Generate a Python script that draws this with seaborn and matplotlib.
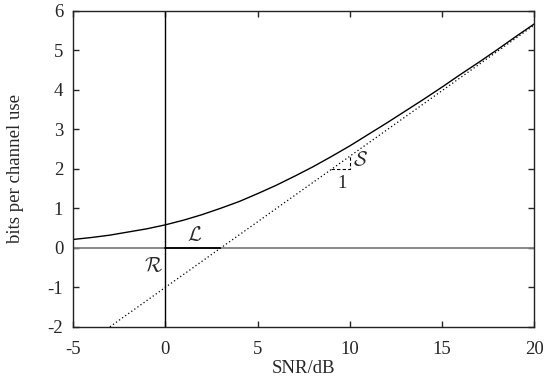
import matplotlib
matplotlib.use("Agg")
import matplotlib.pyplot as plt
import seaborn as sns
import pandas as pd

# curve, one value per dB
snr_db = list(range(-5, 21))
bits = [0.21, 0.26, 0.32, 0.40, 0.48, 0.58, 0.70, 0.84, 1.00, 1.17,
        1.37, 1.58, 1.81, 2.05, 2.31, 2.58, 2.87, 3.16, 3.46, 3.76,
        4.07, 4.39, 4.70, 5.02, 5.35, 5.67]

# high-SNR asymptote (dotted)
asym_db = [-3.0, 20.0]
asym_bits = [-2.0, 5.64]

# slope triangle next to S
tri_db = [9.0, 10.0, 10.0]
tri_bits = [2.0, 2.0, 2.33]

# bold part of the zero line (L)
l_db = [0.0, 2.97]
l_bits = [0.0, 0.0]

sns.set_style("ticks")
plt.rcParams["font.family"] = ["Liberation Serif", "DejaVu Serif"]
plt.rcParams["mathtext.fontset"] = "cm"
plt.rcParams["axes.unicode_minus"] = False
fs = 13.5

fig = plt.figure(figsize=(5.55, 3.84), dpi=100)
ax = fig.add_axes([0.1315, 0.149, 0.8315, 0.823])

ax.axhline(0, color="#808080", lw=1.3, zorder=1)
ax.axvline(0, color="black", lw=1.0, zorder=1)
ax.plot(l_db, l_bits, color="black", lw=1.3, zorder=2)

curve = pd.DataFrame({"snr": snr_db, "bits": bits})
sns.lineplot(data=curve, x="snr", y="bits", color="black", lw=1.0, ax=ax)
sns.lineplot(x=asym_db, y=asym_bits, color="black", lw=0.9,
             linestyle=(0, (1, 2)), ax=ax)
ax.plot(tri_db, tri_bits, color="black", lw=0.8, linestyle=(0, (3, 2)))

ax.text(10.55, 2.19, r"$\mathcal{S}$", fontsize=fs + 1, ha="center", va="center")
ax.text(9.6, 1.62, "1", fontsize=fs, ha="center", va="center")
ax.text(1.6, 0.29, r"$\mathcal{L}$", fontsize=fs + 1, ha="center", va="center")
ax.text(-0.65, -0.5, r"$\mathcal{R}$", fontsize=fs + 1, ha="center", va="center")

ax.set_xlim(-5, 20)
ax.set_ylim(-2, 6)
ax.set_xticks([-5, 0, 5, 10, 15, 20])
ax.set_yticks(range(-2, 7))
ax.set_xlabel("SNR/dB", fontsize=fs)
ax.set_ylabel("bits per channel use", fontsize=fs)
ax.xaxis.set_label_coords(0.5, -0.105)
ax.yaxis.set_label_coords(-0.106, 0.5)

ax.tick_params(direction="in", length=4, width=1.0, top=True, right=True,
               labelsize=fs)
ax.tick_params(axis="x", pad=10)
ax.tick_params(axis="y", pad=7)
for s in ax.spines.values():
    s.set_linewidth(1.0)
    s.set_color("#222222")

fig.savefig("out.png", dpi=100)
